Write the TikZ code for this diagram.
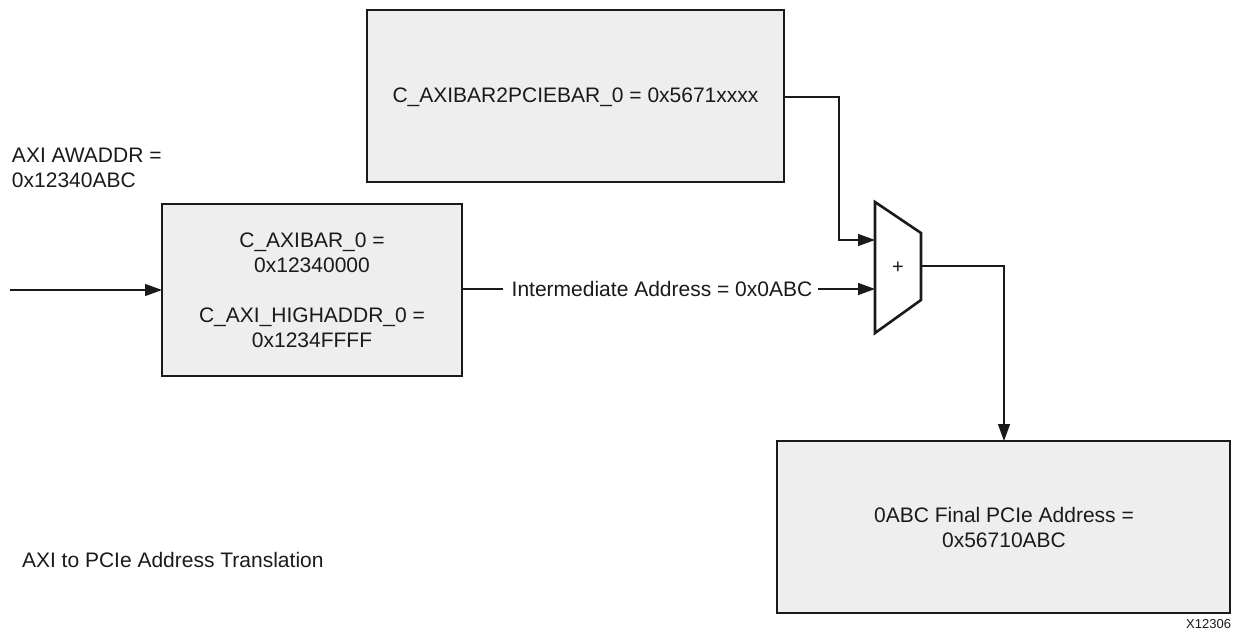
\documentclass[tikz,border=0pt]{standalone}
\usepackage{fontspec}
\setmainfont{Liberation Sans}
\usetikzlibrary{arrows.meta}
\definecolor{boxfill}{HTML}{EEEEEE}
\definecolor{ink}{HTML}{1A1A1A}
\begin{document}
\begin{tikzpicture}[x=1pt,y=-1pt,
  blk/.style={draw=ink,line width=2.6pt,fill=boxfill},
  wire/.style={draw=ink,line width=1.3pt},
  arr/.style={wire,-{Triangle[length=17pt,width=12pt]}},
  txt/.style={font=\fontsize{21}{25}\selectfont,text=ink,inner sep=0pt},
  every node/.style={inner sep=0pt,outer sep=0pt}]
\useasboundingbox (0,0) rectangle (1233,641);
% boxes
\path[blk] (367,10) rectangle (784,182);
\coordinate (tbE) at (784,97);
\node[txt] (tbtext) at (575.5,97) {C\_AXIBAR2PCIEBAR\_0 = 0x5671xxxx};

\path[blk] (162,204) rectangle (462,376);
\coordinate (lbW) at (162,290);
\coordinate (lbE) at (462,289);
\node[txt,align=center] (lbtext) at (312,290) {C\_AXIBAR\_0 =\\0x12340000\\[25pt]C\_AXI\_HIGHADDR\_0 =\\0x1234FFFF};

\path[blk] (777,441) rectangle (1230,613);
\coordinate (bbN) at (1004,441);
\node[txt,align=center] (bbtext) at (1004,527) {0ABC Final PCIe Address =\\0x56710ABC};

% adder
\draw[draw=ink,line width=2.6pt,fill=white,line join=miter] (875,202) -- (921,233) -- (921,300) -- (875,333) -- cycle;
\node[font=\fontsize{20}{22}\selectfont,text=ink] (plus) at (898,268) {+};
\coordinate (addA) at (875,240);
\coordinate (addB) at (875,289);
\coordinate (addO) at (921,266);

% labels
\node[txt,anchor=west,align=left] (awaddr) at (12,168) {AXI AWADDR =\\0x12340ABC};
\node[txt] (inter) at (662,289) {Intermediate Address = 0x0ABC};
\node[txt,anchor=west] (caption) at (22,560) {AXI to PCIe Address Translation};
\node[font=\fontsize{13}{15}\selectfont,text=ink,anchor=east] (fig) at (1231,624) {X12306};

% connectors
\coordinate (in0) at (10,290);
\draw[arr] (in0) -- (lbW);
\draw[wire] (lbE) -- ([xshift=-9pt]inter.west);
\draw[arr] ([xshift=6pt]inter.east) -- (addB);
\draw[arr] (tbE) -- (839,97) -- (839,240) -- (addA);
\draw[arr] (addO) -- (1004,266) -- (bbN);
\end{tikzpicture}
\end{document}
